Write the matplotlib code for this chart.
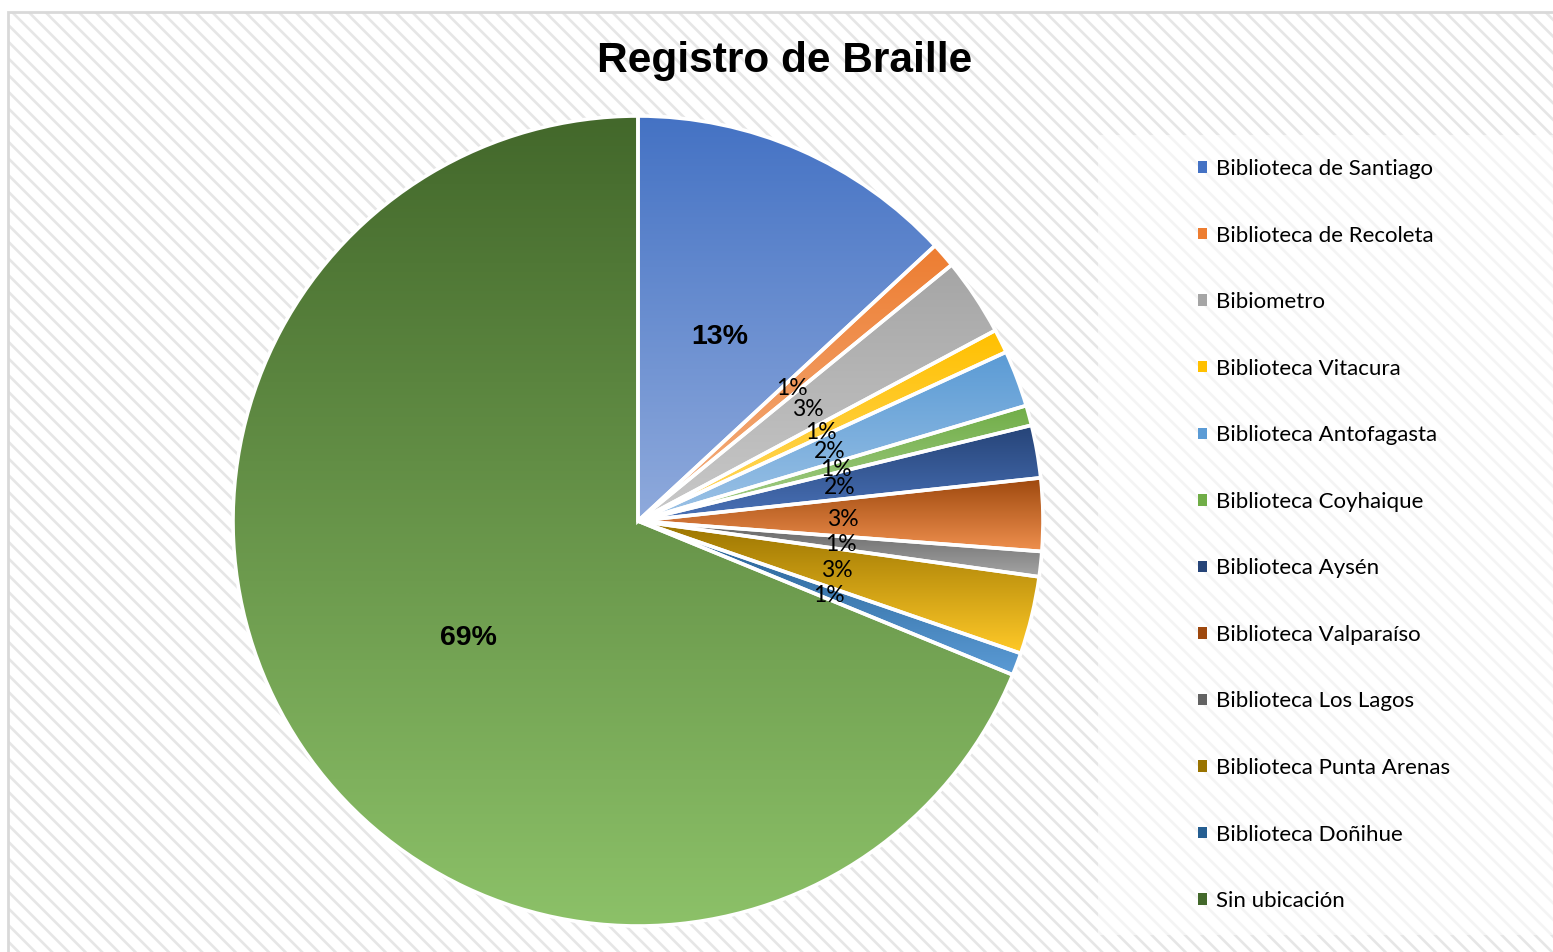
import numpy as np
import matplotlib
matplotlib.use("Agg")
import matplotlib.pyplot as plt
from matplotlib.patches import Rectangle, Patch
from matplotlib.colors import LinearSegmentedColormap

# Registro de Braille por biblioteca (porcentaje del total)
bibliotecas = ['Biblioteca de Santiago', 'Biblioteca de Recoleta', 'Bibiometro',
               'Biblioteca Vitacura', 'Biblioteca Antofagasta', 'Biblioteca Coyhaique',
               'Biblioteca Aysén', 'Biblioteca Valparaíso', 'Biblioteca Los Lagos',
               'Biblioteca Punta Arenas', 'Biblioteca Doñihue', 'Sin ubicación']
porcentajes = [13.1, 1.0, 3.1, 0.95, 2.25, 0.8, 2.1, 2.9, 1.0, 3.1, 0.9, 68.8]

# degradado de cada porción: color arriba -> color abajo
color_arriba = ['#4472C4', '#ED7D31', '#A5A5A5', '#FFC000', '#5B9BD5', '#70AD47',
                '#264478', '#9E480E', '#636363', '#997300', '#255E91', '#43682B']
color_abajo = ['#8FAADC', '#F4B183', '#C9C9C9', '#FFD966', '#9DC3E6', '#A9D18E',
               '#4A72B8', '#F0914F', '#A5A5A5', '#FFC928', '#5B9BD5', '#8CC168']

W, H = 1553, 952
fig = plt.figure(figsize=(W / 100, H / 100), dpi=100)
fig.patch.set_facecolor('white')

# fondo rayado del area del grafico
plt.rcParams['hatch.linewidth'] = 1.9
fondo = Rectangle((8 / W, 0), 1, 1 - 12 / H, transform=fig.transFigure,
                  facecolor='white', edgecolor='#E6E6E6', hatch='\\\\', linewidth=0, zorder=-3)
fig.patches.append(fondo)
borde = Rectangle((8 / W, -0.01), 1, 1.01 - 12 / H, transform=fig.transFigure,
                  facecolor='none', edgecolor='#D9D9D9', linewidth=2, zorder=-2)
fig.patches.append(borde)
caja = Rectangle((1098 / W, 1 - 935 / H), 1, (935 - 135) / H, transform=fig.transFigure,
                 facecolor='white', edgecolor='none', alpha=0.6, zorder=-1)
fig.patches.append(caja)

# ejes del pie: centro (638, 521) px, radio 405 px
cx, cy, R = 638, 521, 405
m = 1.1
ax = fig.add_axes([(cx - m * R) / W, (H - cy - m * R) / H, 2 * m * R / W, 2 * m * R / H])
ax.set_facecolor('none')
ax.set_zorder(1)

wedges, texts, autotexts = ax.pie(
    porcentajes, startangle=90, counterclock=False, autopct='%.0f%%',
    pctdistance=0.505, wedgeprops=dict(edgecolor='white', linewidth=2.6))

for w, top, bot in zip(wedges, color_arriba, color_abajo):
    w.set_facecolor('none')
    w.set_zorder(2)
    x0, y0, x1, y1 = w.get_path().get_extents().extents
    cmap = LinearSegmentedColormap.from_list('g', [bot, top])
    grad = np.linspace(0, 1, 256).reshape(-1, 1)
    im = ax.imshow(grad, extent=[x0, x1, y0, y1], origin='lower', cmap=cmap,
                   aspect='auto', zorder=1, interpolation='bilinear')
    im.set_clip_path(w)

for i, t in enumerate(autotexts):
    t.set_zorder(3)
    t.set_color('black')
    t.set_verticalalignment('center_baseline')
    if i == 0 or i == len(autotexts) - 1:
        t.set_fontfamily('Liberation Sans')
        t.set_fontweight('bold')
        t.set_fontsize(20.5)
    else:
        t.set_fontfamily('Lato')
        t.set_fontsize(16.5)

ax.set_xlim(-m, m)
ax.set_ylim(-m, m)
ax.set_aspect('auto')
ax.axis('off')

fig.text(785 / W, 1 - 61 / H, 'Registro de Braille', ha='center', va='center',
         fontsize=30.5, fontweight='bold', family='Liberation Sans')

handles = [Patch(facecolor=c, edgecolor='none') for c in color_arriba]
leg = fig.legend(handles, bibliotecas, loc='upper left',
                 bbox_to_anchor=(1198 / W, 1 - 159 / H), frameon=False,
                 prop={'family': 'Lato', 'size': 16}, handlelength=0.42,
                 handleheight=0.42, handletextpad=0.38, labelspacing=2.095,
                 borderpad=0, borderaxespad=0)

fig.savefig('out.png', dpi=100)
